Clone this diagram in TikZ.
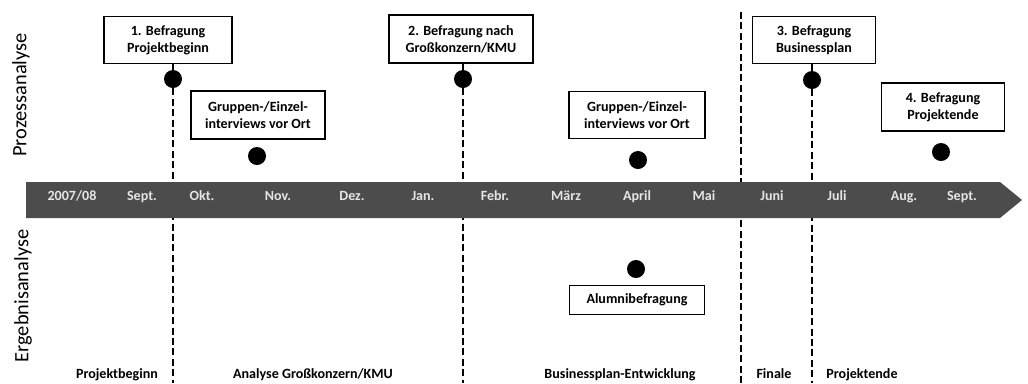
\documentclass[tikz,border=0pt]{standalone}
\usepackage{fontspec}
\setmainfont{Carlito}
\begin{document}
\begin{tikzpicture}[x=0.025cm,y=-0.025cm,
    box/.style={draw,line width=1pt,fill=white,align=center,inner sep=0pt,
        font=\fontsize{10}{12}\selectfont\bfseries},
    dot/.style={circle,fill=black,inner sep=0pt,minimum size=0.45cm},
    milestone/.style={line width=1.6pt,dash pattern=on 5pt off 2.4pt},
    month/.style={text=white!90!black,anchor=base,font=\fontsize{10}{12}\selectfont\bfseries},
    phase/.style={anchor=base,font=\fontsize{10}{12}\selectfont\bfseries},
    side/.style={rotate=90,font=\fontsize{14.5}{16}\selectfont}]

    \useasboundingbox (0,0) rectangle (1028,383);

    % Seitenbeschriftung
    \node [side] (proz) at (21,95) {Prozessanalyse};
    \node [side] (erg) at (23,296) {Ergebnisanalyse};

    % Befragungen
    \node [box,minimum width=3.2cm,minimum height=1.18cm] (b1) at (168,40) {1. Befragung\\Projektbeginn};
    \node [box,minimum width=3.6cm,minimum height=1.2cm] (b2) at (461,39) {2. Befragung nach\\Großkonzern/KMU};
    \node [box,minimum width=3.08cm,minimum height=1.18cm] (b3) at (814,40) {3. Befragung\\Businessplan};
    \node [box,minimum width=3.08cm,minimum height=1.2cm] (b4) at (943,107) {4. Befragung\\Projektende};
    \node [box,minimum width=3.35cm,minimum height=1.2cm] (g1) at (258,115) {Gruppen-/Einzel-\\interviews vor Ort};
    \node [box,minimum width=3.4cm,minimum height=1.17cm] (g2) at (637,115) {Gruppen-/Einzel-\\interviews vor Ort};
    \node [box,minimum width=3.38cm,minimum height=0.73cm] (alu) at (637,300) {Alumnibefragung};

    \node [dot] (d1) at (173,79) {};
    \node [dot] (d2) at (463,79) {};
    \node [dot] (d3) at (812,80) {};
    \node [dot] (d4) at (941,152) {};
    \node [dot] (dg1) at (257,156) {};
    \node [dot] (dg2) at (638,160) {};
    \node [dot] (dalu) at (636,269) {};

    % Phasengrenzen
    \coordinate (e1) at (173,383);
    \coordinate (e2) at (463,383);
    \coordinate (e3) at (812,383);
    \coordinate (f1) at (741,12);
    \coordinate (f2) at (741,383);

    \draw [line width=1pt] (b1.south -| d1) -- (d1);
    \draw [line width=1pt] (b2.south -| d2) -- (d2);
    \draw [line width=1pt] (b3.south -| d3) -- (d3);
    \path [milestone] (d1) edge (e1);
    \path [milestone] (d2) edge (e2);
    \path [milestone] (d3) edge (e3);
    \path [milestone] (f1) edge (f2);

    % Zeitstrahl
    \fill [black!70] (26,182) -- (1000,182) -- (1022,200) -- (1000,218) -- (26,218) -- cycle;

    \node [month] (m0) at (72,200) {2007/08};
    \node [month] (m1) at (142,200) {Sept.};
    \node [month] (m2) at (202,200) {Okt.};
    \node [month] (m3) at (278,200) {Nov.};
    \node [month] (m4) at (352,200) {Dez.};
    \node [month] (m5) at (423,200) {Jan.};
    \node [month] (m6) at (495,200) {Febr.};
    \node [month] (m7) at (566,200) {März};
    \node [month] (m8) at (637,200) {April};
    \node [month] (m9) at (704,200) {Mai};
    \node [month] (m10) at (772,200) {Juni};
    \node [month] (m11) at (837,200) {Juli};
    \node [month] (m12) at (904,200) {Aug.};
    \node [month] (m13) at (962,200) {Sept.};

    % Phasen
    \node [phase] (p1) at (117,378) {Projektbeginn};
    \node [phase] (p2) at (313,378) {Analyse Großkonzern/KMU};
    \node [phase] (p3) at (620,378) {Businessplan-Entwicklung};
    \node [phase] (p4) at (774,378) {Finale};
    \node [phase] (p5) at (862,378) {Projektende};

\end{tikzpicture}
\end{document}
